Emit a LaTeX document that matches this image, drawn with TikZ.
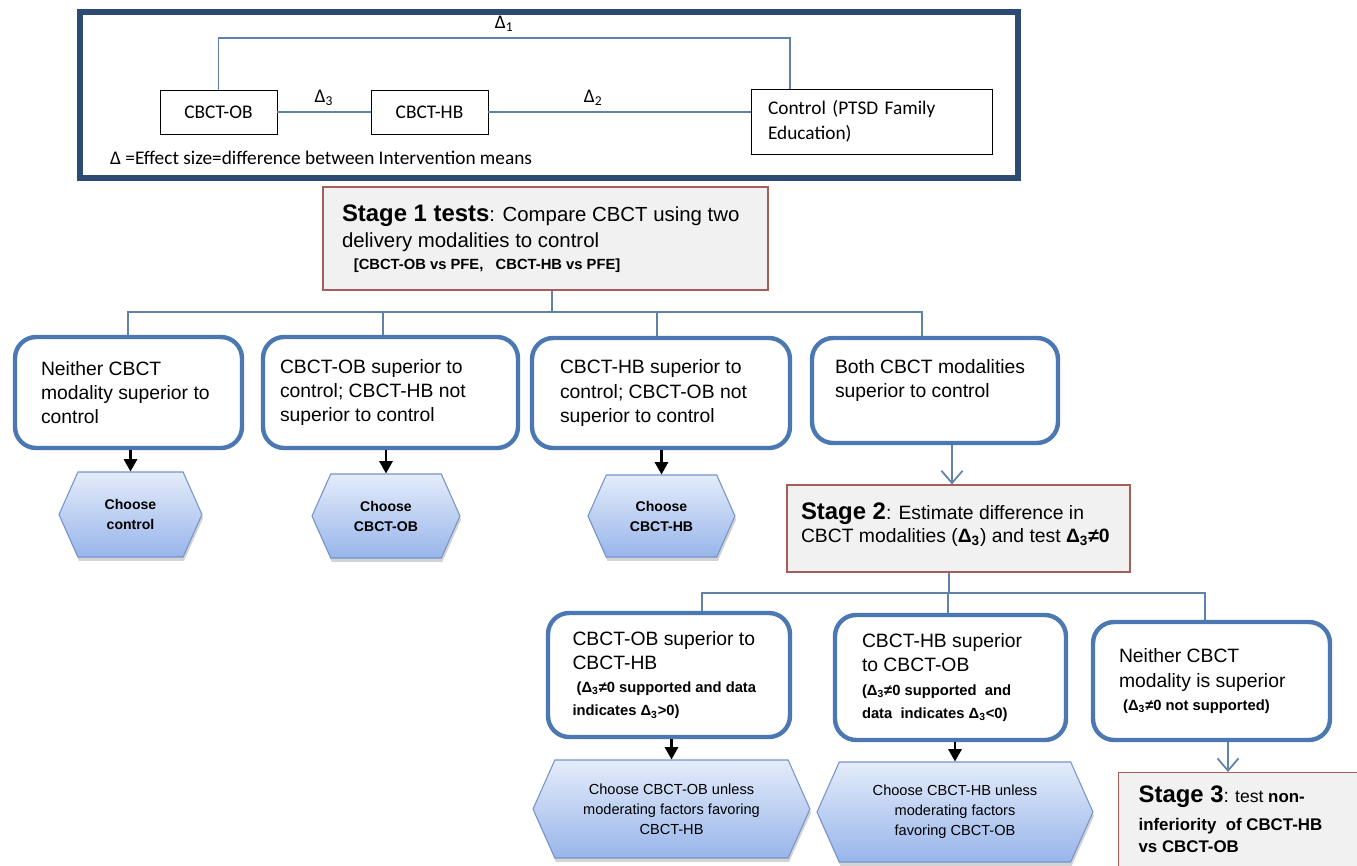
\documentclass[tikz,border=0pt]{standalone}
\usepackage{fontspec}
\setmainfont{Liberation Sans}
\newfontfamily\calibrifont{Carlito}
\usetikzlibrary{shapes.symbols,shadows,arrows.meta}

\definecolor{framenavy}{HTML}{2D4A72}
\definecolor{wireblue}{HTML}{5E82AA}
\definecolor{outlineblue}{HTML}{4B78B2}
\definecolor{stagefill}{HTML}{F2F1F1}
\definecolor{stageedge}{HTML}{A65E5B}
\definecolor{hextop}{HTML}{E4ECFA}
\definecolor{hexbottom}{HTML}{98B5EA}
\definecolor{hexedge}{HTML}{7494CB}

\newcommand{\dsub}[1]{Δ\textsubscript{#1}}
\newcommand{\notefont}{\fontsize{8.4}{13.2}\selectfont\bfseries}
\newcommand{\stagefont}{\fontsize{13.6}{15}\selectfont\bfseries}

\begin{document}
\begin{tikzpicture}[x=0.02cm, y=-0.02cm,
        armbox/.style={draw=black, thin, font=\calibrifont\fontsize{11}{14}\selectfont},
        wire/.style={draw=wireblue, line width=0.8pt},
        stagebox/.style={draw=stageedge, line width=0.7pt, fill=stagefill, align=flush left, font=\fontsize{11.3}{15}\selectfont},
        outcome/.style={draw=outlineblue, line width=2.5pt, rounded corners=12pt, fill=white, align=flush left, font=\fontsize{11}{13.8}\selectfont},
        choice/.style={signal, signal to=east and west, signal pointer angle=132, draw=hexedge, line width=0.6pt,
            top color=hextop, bottom color=hexbottom, align=center,
            drop shadow={shadow xshift=0.6pt, shadow yshift=-2.2pt, opacity=0.35}},
        blackarrow/.style={-{Triangle[length=7pt, width=7.5pt]}, line width=1.3pt, black},
        bluearrow/.style={-{Straight Barb[length=7pt, width=12pt]}, draw=wireblue, line width=1pt}
    ]
    \clip (0,0) rectangle (1357,866);

    % Effect sizes between the three arms
    \draw[framenavy, line width=3pt] (80,12) rectangle (1018,178);
    \node[armbox, minimum width=2.34cm, minimum height=0.88cm] (ob) at (218.5,112) {CBCT-OB};
    \node[armbox, minimum width=2.34cm, minimum height=0.88cm] (hb) at (429.5,112) {CBCT-HB};
    \node[armbox, minimum width=4.82cm, minimum height=1.3cm, text width=4.14cm, align=left] (ctl) at (871.5,121.5) {Control (PTSD Family\\Education)};
    \node[anchor=west, font=\calibrifont\fontsize{11}{14}\selectfont] (key) at (104,158) {Δ =Effect size=difference between Intervention means};
    \coordinate (d1) at (790,38);
    \draw[wire] (ob.north) |- node[pos=0.75, above, font=\calibrifont\fontsize{11}{14}\selectfont] {\dsub1} (d1) -- (d1 |- ctl.north);
    \draw[wire] (ob) -- node[above, font=\calibrifont\fontsize{11}{14}\selectfont] {\dsub3} (hb);
    \draw[wire] (hb) -- node[pos=0.4, above, font=\calibrifont\fontsize{11}{14}\selectfont] {\dsub2} (hb -| ctl.west);

    % Stage 1
    \node[stagebox, minimum width=8.9cm, minimum height=2.06cm, text width=8.14cm, font=\fontsize{11.6}{15}\selectfont] (stageA) at (545.5,238.5)
        {{\stagefont Stage 1 tests}: Compare CBCT using two\\delivery modalities to control\par
         {\fontsize{8.4}{12.5}\selectfont\bfseries\hspace*{0.8em}[CBCT-OB vs PFE,\ \ \ CBCT-HB vs PFE]\par}};

    % Stage 1 outcomes
    \node[outcome, minimum width=4.54cm, minimum height=2.22cm, text width=3.5cm] (optA) at (128.5,392.5) {Neither CBCT\\modality superior to\\control};
    \node[outcome, minimum width=5.1cm, minimum height=2.22cm, text width=4.42cm] (optB) at (390.5,392.5) {CBCT-OB superior to\\control; CBCT-HB not\\superior to control};
    \node[outcome, minimum width=5.16cm, minimum height=2.2cm, text width=4.04cm] (optC) at (661,393) {CBCT-HB superior to\\control; CBCT-OB not\\superior to control};
    \node[outcome, minimum width=4.92cm, minimum height=2.1cm, text width=4.0cm] (optD) at (935,390.5) {Both CBCT modalities\\superior to control\\\mbox{}};

    \coordinate (busA) at (552,312);
    \draw[wire] (stageA.south -| busA) -- (busA);
    \foreach \o/\x in {optA/128,optB/383,optC/657,optD/922}
        \draw[wire] (\o.north -| \x,0) |- (busA);

    % Decisions after stage 1
    \node[choice, minimum width=2.86cm, minimum height=1.7cm, font=\fontsize{8}{11.4}\selectfont\bfseries] (pickA) at (130.5,514.5) {Choose\\control};
    \node[choice, minimum width=2.96cm, minimum height=1.68cm, font=\fontsize{8}{11.4}\selectfont\bfseries] (pickB) at (386,516) {Choose\\CBCT-OB};
    \node[choice, minimum width=2.94cm, minimum height=1.64cm, font=\fontsize{8}{11.4}\selectfont\bfseries] (pickC) at (661.5,516) {Choose\\CBCT-HB};
    \foreach \p/\o in {pickA/optA,pickB/optB,pickC/optC}
        \draw[blackarrow] (\p.north |- \o.south) -- (\p.north);

    % Stage 2
    \node[stagebox, minimum width=6.86cm, minimum height=1.74cm, text width=6.3cm, font=\fontsize{11}{13.2}\selectfont] (stageB) at (958.5,528.5)
        {{\stagefont Stage 2}: Estimate difference in\\CBCT modalities ({\bfseries\dsub3}) and test {\bfseries\dsub3≠0}\\[-7pt]\mbox{}};
    \draw[bluearrow] (optD.south -| 952,0) -- (stageB.north -| 952,0);

    % Stage 2 outcomes
    \node[outcome, minimum width=4.84cm, minimum height=2.48cm, text width=3.86cm] (optE) at (669,675)
        {CBCT-OB superior to\\CBCT-HB\par{\notefont\ (\dsub3≠0 supported and data\\indicates \dsub3>0)\par}};
    \node[outcome, minimum width=4.62cm, minimum height=2.5cm, text width=3.54cm] (optF) at (950.5,677.5)
        {CBCT-HB superior\\to CBCT-OB\par{\notefont (\dsub3≠0 supported\ \ and\\data\ \ indicates \dsub3<0)\par}};
    \node[outcome, minimum width=4.74cm, minimum height=2.36cm, text width=3.7cm] (optG) at (1211.5,681)
        {Neither CBCT\\modality is superior\par{\notefont\ (\dsub3≠0 not supported)\par}};

    \coordinate (busB) at (949,593);
    \draw[wire] (busB |- stageB.south) -- (busB);
    \foreach \o/\x in {optE/702,optF/948,optG/1205}
        \draw[wire] (\o.north -| \x,0) |- (busB);

    % Decisions after stage 2
    \node[choice, minimum width=5.54cm, minimum height=1.96cm, font=\fontsize{8.3}{11.4}\selectfont] (pickE) at (671.5,809)
        {Choose CBCT-OB unless\\moderating factors favoring\\CBCT-HB};
    \node[choice, minimum width=5.52cm, minimum height=2.0cm, font=\fontsize{8.3}{11.4}\selectfont] (pickF) at (955,812)
        {Choose CBCT-HB unless\\moderating factors\\favoring CBCT-OB};
    \foreach \p/\o in {pickE/optE,pickF/optF}
        \draw[blackarrow] (\p.north |- \o.south) -- (\p.north);

    % Stage 3
    \node[stagebox, anchor=north west, text width=4.6cm, inner xsep=0.4cm, inner ysep=0.26cm, font=\fontsize{9.6}{12.5}\selectfont] (stageC) at (1118,772)
        {{\stagefont Stage 3}{\fontsize{11}{12.5}\selectfont:} {\fontsize{10}{12.5}\selectfont test} \textbf{non-}\\[3.5pt]\textbf{inferiority\ \ of CBCT-HB}\\\textbf{vs CBCT-OB}\\[6pt]\mbox{}};
    \draw[bluearrow] (optG.south -| 1228,0) -- (stageC.north -| 1228,0);

\end{tikzpicture}
\end{document}
